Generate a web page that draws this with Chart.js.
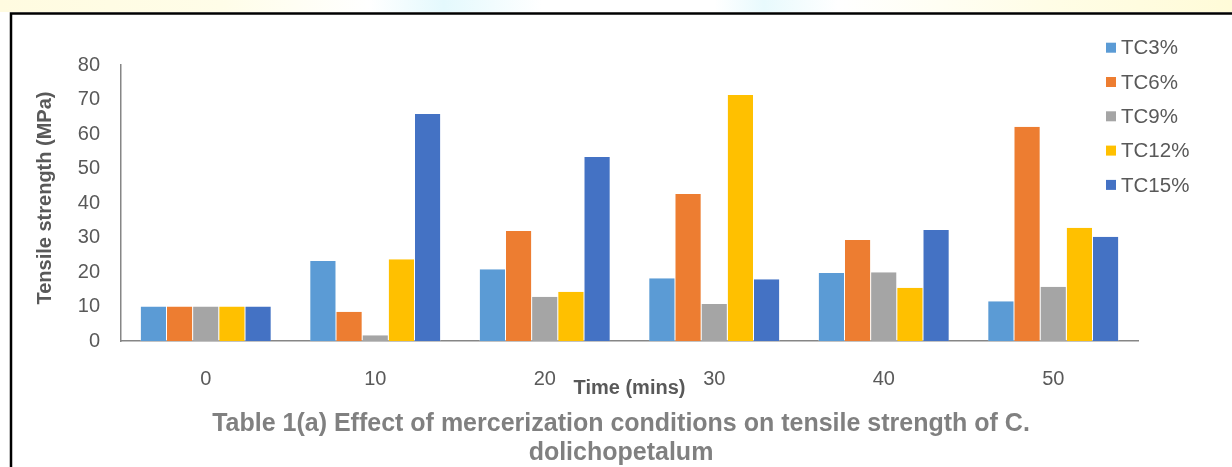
<!DOCTYPE html>
<html>
<head>
<meta charset="utf-8">
<script src="https://cdn.jsdelivr.net/npm/chart.js@4.4.0/dist/chart.umd.min.js"></script>
<style>
html,body{margin:0;padding:0;background:#fff;}
#wrap{position:relative;width:1232px;height:467px;}
canvas{display:block;}
</style>
</head>
<body>
<div id="wrap"><canvas id="c" width="1232" height="467"></canvas></div>
<script>
const categories = ['0', '10', '20', '30', '40', '50'];
const seriesNames = ['TC3%', 'TC6%', 'TC9%', 'TC12%', 'TC15%'];
const tc3  = [10, 23.2, 20.8, 18.2, 19.7, 11.5];
const tc6  = [10, 8.5, 31.9, 42.6, 29.3, 62.1];
const tc9  = [10, 1.7, 12.8, 10.7, 19.9, 15.7];
const tc12 = [10, 23.7, 14.3, 71.3, 15.4, 32.8];
const tc15 = [10, 65.8, 53.3, 17.9, 32.2, 30.2];
const colors = ['#5B9BD5', '#ED7D31', '#A5A5A5', '#FFC000', '#4472C4'];
const yTitle = 'Tensile strength (MPa)';
const xTitle = 'Time (mins)';
const chartTitle = ['Table 1(a) Effect of mercerization conditions on tensile strength of C.', 'dolichopetalum'];

const seriesValues = [tc3, tc6, tc9, tc12, tc15];
const FONT = '"Liberation Sans", Arial, sans-serif';

const decorPlugin = {
  id: 'decor',
  beforeDraw(chart) {
    const ctx = chart.ctx;
    ctx.save();
    const g = ctx.createLinearGradient(0, 0, 1232, 0);
    g.addColorStop(0, '#fffbe0');
    g.addColorStop(0.18, '#fffde8');
    g.addColorStop(0.3, '#ffffff');
    g.addColorStop(0.36, '#e4f9fd');
    g.addColorStop(0.44, '#ffffff');
    g.addColorStop(0.58, '#ffffff');
    g.addColorStop(0.62, '#e8fafd');
    g.addColorStop(0.68, '#ffffff');
    g.addColorStop(0.85, '#fffde6');
    g.addColorStop(1, '#fffbd8');
    ctx.fillStyle = g;
    ctx.fillRect(0, 0, 1232, 12);
    ctx.strokeStyle = '#000';
    ctx.lineWidth = 2.5;
    ctx.beginPath();
    ctx.moveTo(11, 470);
    ctx.lineTo(11, 13.5);
    ctx.lineTo(1240, 13.5);
    ctx.stroke();
    ctx.restore();
  },
  afterDraw(chart) {
    const ctx = chart.ctx;
    const area = chart.chartArea;
    ctx.save();
    ctx.font = '20.5px ' + FONT;
    ctx.textBaseline = 'middle';
    ctx.textAlign = 'left';
    seriesNames.forEach((n, i) => {
      const y = 47.7 + i * 34.3;
      ctx.fillStyle = colors[i];
      ctx.fillRect(1106, y - 5, 10, 10);
      ctx.fillStyle = '#595959';
      ctx.fillText(n, 1121, y + 1);
    });
    ctx.save();
    ctx.translate(45, 198);
    ctx.rotate(-Math.PI / 2);
    ctx.font = 'bold 20px ' + FONT;
    ctx.fillStyle = '#595959';
    ctx.textAlign = 'center';
    ctx.textBaseline = 'middle';
    ctx.fillText(yTitle, 0, 0);
    ctx.restore();
    ctx.font = 'bold 20px ' + FONT;
    ctx.fillStyle = '#595959';
    ctx.textAlign = 'center';
    ctx.textBaseline = 'middle';
    ctx.fillText(xTitle, (area.left + area.right) / 2, 388);
    ctx.font = 'bold 25px ' + FONT;
    ctx.fillStyle = '#808080';
    ctx.fillText(chartTitle[0], 621, 424);
    ctx.fillText(chartTitle[1], 621, 453);
    ctx.restore();
  }
};

new Chart(document.getElementById('c'), {
  type: 'bar',
  data: {
    labels: categories,
    datasets: seriesNames.map((n, i) => ({
      label: n,
      data: seriesValues[i],
      backgroundColor: colors[i],
      borderColor: 'rgba(255,255,255,0.7)',
      borderWidth: {left: 0.5, right: 0.5, top: 0, bottom: 0},
      barPercentage: 1,
      categoryPercentage: 0.772
    }))
  },
  options: {
    responsive: false,
    animation: false,
    devicePixelRatio: 1,
    layout: { padding: { left: 0, top: 65, right: 94, bottom: 0 } },
    plugins: {
      legend: { display: false },
      title: { display: false },
      tooltip: { enabled: false }
    },
    scales: {
      x: {
        grid: { display: false, drawTicks: false },
        border: { display: true, color: '#868686', width: 1.5 },
        ticks: { color: '#595959', font: { size: 20, family: FONT }, padding: 26, maxRotation: 0 },
        afterFit(scale) { scale.height = 126; }
      },
      y: {
        min: 0, max: 80,
        grid: { display: false, drawTicks: false },
        border: { display: true, color: '#868686', width: 1.5 },
        ticks: { stepSize: 10, color: '#595959', font: { size: 20, family: FONT }, padding: 21 },
        afterFit(scale) { scale.width = 121; }
      }
    }
  },
  plugins: [decorPlugin]
});
</script>
</body>
</html>
